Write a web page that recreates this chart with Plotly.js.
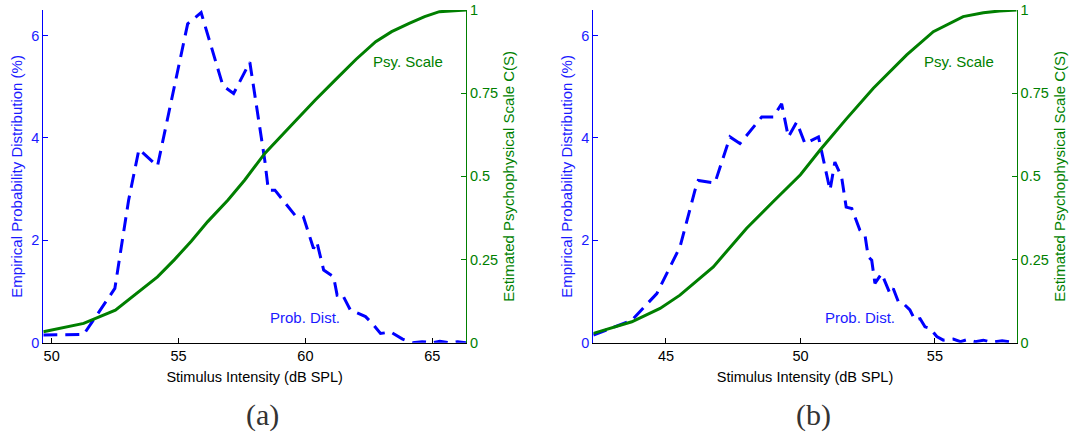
<!DOCTYPE html>
<html><head><meta charset="utf-8">
<script src="https://cdn.plot.ly/plotly-3.0.1.min.js"></script>
<style>html,body{margin:0;padding:0;background:#fff}#chart{width:1072px;height:433px}</style>
</head><body><div id="chart"></div>
<script>
// Panel (a)
const aDistX = [49.67,51.26,52.49,53.03,53.44,54.17,55.36,55.89,56.75,57.17,57.81,58.40,58.54,58.80,59.59,59.92,60.32,60.45,60.72,61.11,61.25,61.44,61.77,62.37,62.63,62.96,63.36,63.83,64.22,64.6,65.0,65.3,65.7,66.0,66.33];
const aDistY = [0.15,0.16,1.06,2.78,3.78,3.45,6.23,6.45,5.02,4.87,5.48,3.56,2.98,2.98,2.49,2.46,1.84,1.97,1.42,1.29,0.93,0.96,0.64,0.51,0.38,0.18,0.21,0.07,0.0,0.02,0.0,0.03,0.0,0.02,0.0];
const aScaleX = [49.67,51.26,52.51,53.3,54.17,54.83,55.5,56.15,56.95,57.61,58.40,59.4,60.38,61.18,62.0,62.77,63.4,64.09,64.7,65.28,66.33];
const aScaleY = [0.033,0.058,0.098,0.145,0.198,0.249,0.305,0.364,0.429,0.489,0.569,0.65,0.729,0.790,0.852,0.905,0.935,0.960,0.98,0.995,1.0];
// Panel (b)
const bDistX = [42.3,43.73,44.66,45.52,46.08,46.2,46.82,47.38,47.75,48.56,48.99,49.30,49.55,49.86,50.17,50.67,51.10,51.28,51.53,51.70,51.91,52.09,52.21,52.40,52.52,52.65,52.77,53.02,53.33,53.45,53.64,53.82,54.07,54.26,54.45,54.63,54.82,55.07,55.31,55.68,55.95,56.2,56.5,56.8,57.1,57.5,58.04];
const bDistY = [0.15,0.44,0.96,1.87,2.98,3.17,3.12,4.02,3.89,4.41,4.41,4.67,4.02,4.31,3.89,4.02,2.98,3.53,3.24,2.65,2.62,2.39,2.2,2.1,1.68,1.61,1.16,1.35,0.96,1.06,0.80,0.77,0.64,0.44,0.47,0.31,0.28,0.12,0.05,0.07,0.02,0.06,0.02,0.05,0.01,0.04,0.0];
const bScaleX = [42.3,43.73,44.78,45.52,46.76,48.0,49.0,50.0,50.73,51.7,52.71,53.95,54.94,56.05,56.8,57.4,58.04];
const bScaleY = [0.028,0.063,0.103,0.143,0.228,0.344,0.425,0.505,0.579,0.672,0.765,0.865,0.935,0.98,0.992,0.997,1.0];

const leftTicks = [0,2,4,6];
const rightTicks = [0,0.25,0.5,0.75,1];
const rightTickText = ['0','0.25','0.5','0.75','1'];
const aXTicks = [50,55,60,65];
const bXTicks = [45,50,55];
const xTitle = 'Stimulus Intensity (dB SPL)';
const yLeftTitle = 'Empirical Probability Distribution (%)';
const yRightTitle = 'Estimated Psychophysical Scale C(S)';

const BLUE = '#0000ff', BLUE_T = '#1a1aff', GREEN = '#007f00';
const FONT = 'Liberation Sans, Arial, sans-serif';
const TS = 14.5, LS = 15;

const traces = [
  {x:aDistX, y:aDistY, xaxis:'x', yaxis:'y', mode:'lines', line:{color:BLUE, width:3, dash:'14px,8px'}},
  {x:aScaleX, y:aScaleY, xaxis:'x', yaxis:'y2', mode:'lines', line:{color:GREEN, width:3}},
  {x:bDistX, y:bDistY, xaxis:'x2', yaxis:'y3', mode:'lines', line:{color:BLUE, width:3, dash:'14px,8px'}},
  {x:bScaleX, y:bScaleY, xaxis:'x2', yaxis:'y4', mode:'lines', line:{color:GREEN, width:3}}
];

const ydom = [0.2085, 0.9769];
function xax(dom, range, ticks, anchor){
  return {domain:dom, range:range, tickvals:ticks, ticks:'inside', ticklen:5, tickcolor:'#000',
    showline:true, linecolor:'#000', linewidth:1, showgrid:false, zeroline:false, anchor:anchor,
    tickfont:{family:FONT, size:TS, color:'#000'},
    title:{text:xTitle, font:{family:FONT, size:LS-0.5, color:'#000'}, standoff:8}};
}
function yleft(anchor){
  return {domain:ydom, range:[0,6.5], tickvals:leftTicks, ticks:'inside', ticklen:5, tickcolor:BLUE,
    showline:true, linecolor:BLUE, linewidth:1, showgrid:false, zeroline:false, anchor:anchor,
    tickfont:{family:FONT, size:TS, color:BLUE_T},
    title:{text:yLeftTitle, font:{family:FONT, size:LS, color:BLUE_T}, standoff:5}};
}
function yright(anchor, over){
  return {range:[0,1], tickvals:rightTicks, ticktext:rightTickText, ticks:'inside', ticklen:5, tickcolor:GREEN,
    showline:true, linecolor:GREEN, linewidth:1, showgrid:false, zeroline:false, anchor:anchor,
    overlaying:over, side:'right',
    tickfont:{family:FONT, size:TS, color:GREEN},
    title:{text:yRightTitle, font:{family:FONT, size:LS, color:GREEN}, standoff:6}};
}

const SERIF = 'Liberation Serif, DejaVu Serif, serif';
const layout = {
  width:1072, height:433, margin:{l:0,r:0,t:0,b:0}, showlegend:false,
  paper_bgcolor:'#fff', plot_bgcolor:'rgba(0,0,0,0)',
  xaxis: xax([0.0404,0.4347],[49.67,66.33],aXTicks,'y'),
  yaxis: yleft('x'),
  yaxis2: yright('x','y'),
  xaxis2: xax([0.5535,0.9484],[42.3,58.04],bXTicks,'y3'),
  yaxis3: yleft('x2'),
  yaxis4: yright('x2','y3'),
  annotations:[
    {xref:'x', yref:'y2', x:64.06, y:0.845, text:'Psy. Scale', showarrow:false, font:{family:FONT,size:LS,color:GREEN}},
    {xref:'x', yref:'y2', x:59.98, y:0.077, text:'Prob. Dist.', showarrow:false, font:{family:FONT,size:LS,color:BLUE_T}},
    {xref:'x2', yref:'y4', x:55.9, y:0.845, text:'Psy. Scale', showarrow:false, font:{family:FONT,size:LS,color:GREEN}},
    {xref:'x2', yref:'y4', x:52.2, y:0.077, text:'Prob. Dist.', showarrow:false, font:{family:FONT,size:LS,color:BLUE_T}},
    {xref:'paper', yref:'paper', x:262.5/1072, y:0, xanchor:'center', yanchor:'bottom', borderpad:0, text:'(a)', showarrow:false, font:{family:SERIF, size:30, color:'#333'}},
    {xref:'paper', yref:'paper', x:813.5/1072, y:0, xanchor:'center', yanchor:'bottom', borderpad:0, text:'(b)', showarrow:false, font:{family:SERIF, size:30, color:'#333'}}
  ]
};
Plotly.newPlot('chart', traces, layout, {displayModeBar:false, staticPlot:true});
</script></body></html>
